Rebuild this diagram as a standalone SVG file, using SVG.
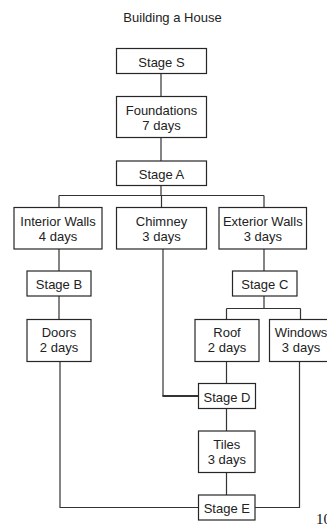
<svg xmlns="http://www.w3.org/2000/svg" width="327" height="529" viewBox="0 0 327 529">
  <style>
    .box { fill: #ffffff; stroke: #262626; stroke-width: 1.2; }
    .t { font-family: "Liberation Sans", Arial, sans-serif; font-size: 13px; fill: #222222; text-anchor: middle; }
    .c { fill: none; stroke: #333333; stroke-width: 1.2; }
    .c2 { fill: none; stroke: #333333; stroke-width: 2; }
  </style>
  <rect x="0" y="0" width="327" height="529" fill="#ffffff"/>
  <text class="t" x="172.5" y="21.5">Building a House</text>

  <g id="connectors">
    <path class="c" d="M161,73 V96 M161,137 V161 M161,185 V195.5 M59,195.5 H264 M59,195.5 V207 M161.5,195.5 V207 M264,195.5 V207"/>
    <path class="c" d="M59,249 V271 M59,296 V319 M264,249 V271 M264,296 V308.5 M226.5,308.5 H300.5 M226.5,308.5 V319 M300.5,308.5 V319"/>
    <path class="c" d="M226.5,361 V383 M226.5,408 V431 M226.5,472 V495"/>
    <path class="c" d="M163,249 V396"/>
    <path class="c2" d="M162.4,396 H198"/>
    <path class="c" d="M60,361 V507.5 H198"/>
    <path class="c" d="M299.5,361 V507.5 H255"/>
  </g>

  <g id="stageS">
    <rect class="box" x="116.5" y="48.5" width="90" height="25"/>
    <text class="t" x="161.5" y="66.5">Stage S</text>
  </g>
  <g id="foundations">
    <rect class="box" x="116.5" y="96.5" width="90" height="41"/>
    <text class="t" x="161.5" y="114.5">Foundations</text>
    <text class="t" x="161.5" y="129.5">7 days</text>
  </g>
  <g id="stageA">
    <rect class="box" x="116.5" y="161" width="90" height="24.5"/>
    <text class="t" x="161.5" y="179">Stage A</text>
  </g>
  <g id="interiorWalls">
    <rect class="box" x="14" y="207.5" width="88" height="41.5"/>
    <text class="t" x="58" y="225.7">Interior Walls</text>
    <text class="t" x="58" y="240.7">4 days</text>
  </g>
  <g id="chimney">
    <rect class="box" x="116.5" y="207.5" width="90" height="41.5"/>
    <text class="t" x="161.5" y="225.7">Chimney</text>
    <text class="t" x="161.5" y="240.7">3 days</text>
  </g>
  <g id="exteriorWalls">
    <rect class="box" x="219" y="207.5" width="87.5" height="41.5"/>
    <text class="t" x="262.8" y="225.7">Exterior Walls</text>
    <text class="t" x="262.8" y="240.7">3 days</text>
  </g>
  <g id="stageB">
    <rect class="box" x="27" y="271" width="64" height="25"/>
    <text class="t" x="59" y="289">Stage B</text>
  </g>
  <g id="stageC">
    <rect class="box" x="232.5" y="271" width="64.5" height="25"/>
    <text class="t" x="264.8" y="289">Stage C</text>
  </g>
  <g id="doors">
    <rect class="box" x="27" y="319.5" width="64" height="42"/>
    <text class="t" x="59" y="336.8">Doors</text>
    <text class="t" x="59" y="352">2 days</text>
  </g>
  <g id="roof">
    <rect class="box" x="195" y="319.5" width="64" height="42"/>
    <text class="t" x="227" y="336.8">Roof</text>
    <text class="t" x="227" y="352">2 days</text>
  </g>
  <g id="windows">
    <rect class="box" x="269.5" y="319.5" width="63" height="42"/>
    <text class="t" x="301" y="336.8">Windows</text>
    <text class="t" x="301" y="352">3 days</text>
  </g>
  <g id="stageD">
    <rect class="box" x="198.5" y="383.5" width="57" height="25"/>
    <text class="t" x="227" y="401.5">Stage D</text>
  </g>
  <g id="tiles">
    <rect class="box" x="198.5" y="431" width="56.5" height="41.5"/>
    <text class="t" x="226.8" y="448.5">Tiles</text>
    <text class="t" x="226.8" y="463.8">3 days</text>
  </g>
  <g id="stageE">
    <rect class="box" x="198.5" y="495" width="56.5" height="25"/>
    <text class="t" x="226.8" y="513">Stage E</text>
  </g>
  <text x="316" y="524" font-family="Liberation Serif, 'Times New Roman', serif" font-size="15" fill="#111111">10</text>
</svg>
